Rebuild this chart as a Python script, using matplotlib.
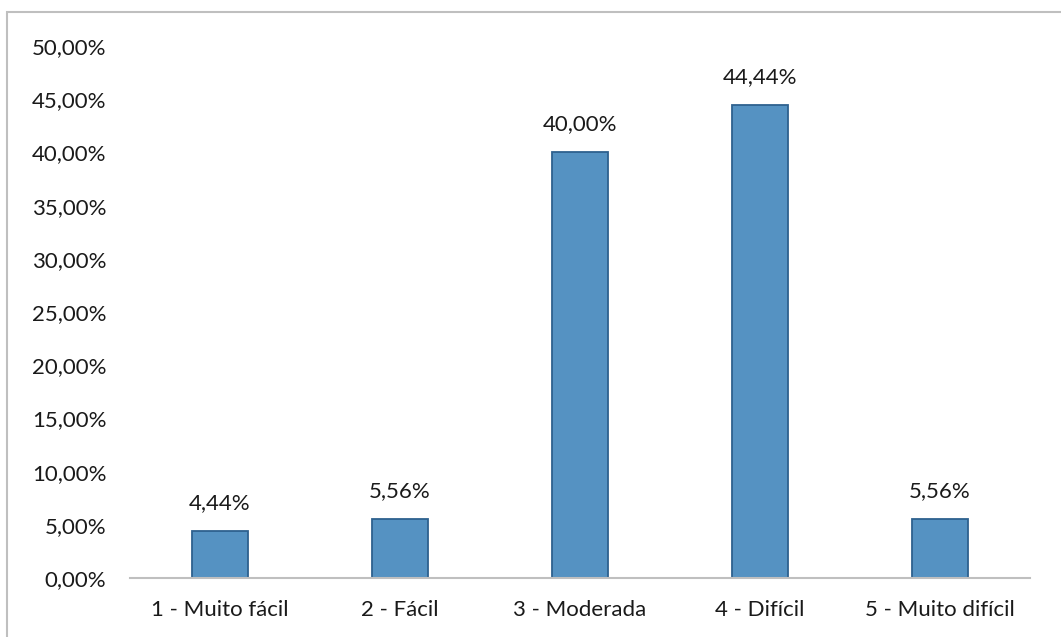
import matplotlib.pyplot as plt
from matplotlib.patches import Rectangle
from matplotlib.ticker import FuncFormatter

categories = ['1 - Muito fácil', '2 - Fácil', '3 - Moderada', '4 - Difícil', '5 - Muito difícil']
values = [4.44, 5.56, 40.00, 44.44, 5.56]
y_ticks = [0, 5, 10, 15, 20, 25, 30, 35, 40, 45, 50]

plt.rcParams['font.family'] = ['Lato', 'DejaVu Sans']

fig = plt.figure(figsize=(10.61, 6.37), dpi=100)
# light gray frame around the chart area
fig.patches.append(Rectangle((7 / 1061, -0.1), 1.2, 1 - 12 / 637 + 0.1,
                             transform=fig.transFigure, fill=False,
                             edgecolor='#BFBFBF', linewidth=1.5))

ax = fig.add_axes([130 / 1061, 1 - 578 / 637, 900 / 1061, (578 - 46) / 637])
x = range(len(categories))
bars = ax.bar(x, values, width=0.31, color='#5592C2', edgecolor='#2E618F', linewidth=1.3)

for b, v in zip(bars, values):
    ax.annotate(f'{v:.2f}%'.replace('.', ','), (b.get_x() + b.get_width() / 2, v),
                xytext=(0, 13), textcoords='offset points', ha='center', va='bottom',
                fontsize=16, color='#1a1a1a')

ax.set_xlim(-0.5, 4.5)
ax.set_ylim(0, 50)
ax.set_yticks(y_ticks)
ax.yaxis.set_major_formatter(FuncFormatter(lambda v, p: f'{v:.2f}%'.replace('.', ',')))
ax.set_xticks(list(x))
ax.set_xticklabels(categories)
ax.tick_params(axis='both', length=0, labelsize=16, labelcolor='#1a1a1a')
ax.tick_params(axis='y', pad=17)
ax.tick_params(axis='x', pad=16)

for s in ['top', 'right', 'left']:
    ax.spines[s].set_visible(False)
ax.spines['bottom'].set_color('#BFBFBF')
ax.spines['bottom'].set_linewidth(1.5)

fig.savefig('out.png', dpi=100)
